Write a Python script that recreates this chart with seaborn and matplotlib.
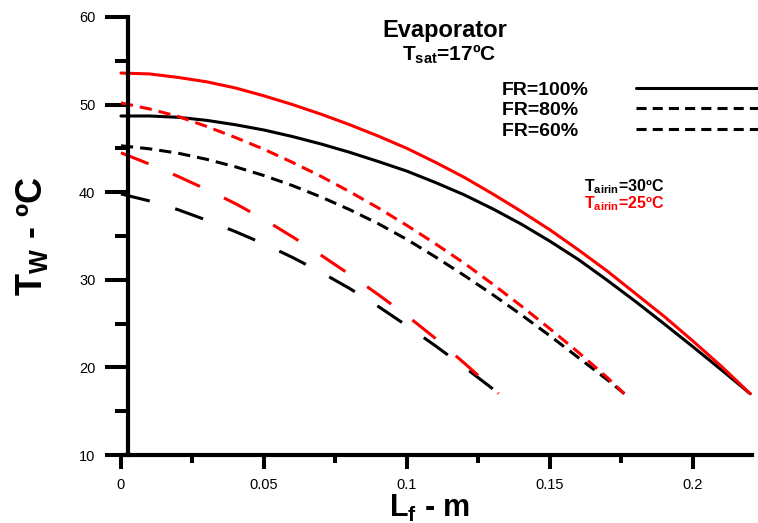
import numpy as np
import pandas as pd
import matplotlib
matplotlib.use('Agg')
import matplotlib.pyplot as plt
from matplotlib.lines import Line2D
from matplotlib.ticker import MultipleLocator, FormatStrFormatter
import seaborn as sns

# fin length (m) and wall temperature (C)
# FR = 100 %
L_100 = [0, 0.01, 0.02, 0.03, 0.04, 0.05, 0.06, 0.07, 0.08, 0.09, 0.10, 0.11,
         0.12, 0.13, 0.14, 0.15, 0.16, 0.17, 0.18, 0.19, 0.20, 0.21, 0.22]
Tw_100_30 = [48.7, 48.7, 48.55, 48.2, 47.7, 47.1, 46.35, 45.5, 44.55, 43.5, 42.4, 41.1,
             39.7, 38.1, 36.35, 34.4, 32.3, 29.95, 27.5, 24.95, 22.35, 19.7, 17.0]
Tw_100_25 = [53.6, 53.5, 53.1, 52.6, 51.9, 51.0, 50.0, 48.9, 47.7, 46.4, 45.0, 43.4,
             41.7, 39.8, 37.8, 35.7, 33.4, 31.0, 28.4, 25.8, 23.0, 20.1, 17.0]
# FR = 80 %
L_80 = [0, 0.01, 0.02, 0.03, 0.04, 0.05, 0.06, 0.07, 0.08, 0.09, 0.10,
        0.11, 0.12, 0.13, 0.14, 0.15, 0.16, 0.17, 0.176]
Tw_80_30 = [45.3, 44.95, 44.45, 43.75, 42.9, 41.9, 40.75, 39.45, 38.0, 36.4, 34.6,
            32.6, 30.5, 28.3, 26.0, 23.6, 21.1, 18.6, 17.0]
Tw_80_25 = [50.2, 49.5, 48.65, 47.5, 46.25, 44.9, 43.4, 41.8, 40.05, 38.2, 36.2,
            34.1, 31.9, 29.5, 27.0, 24.4, 21.7, 18.85, 17.0]
# FR = 60 %
L_60 = [0, 0.01, 0.02, 0.03, 0.04, 0.05, 0.06, 0.07, 0.08, 0.09, 0.10,
        0.11, 0.12, 0.13, 0.132]
Tw_60_30 = [39.8, 39.0, 38.0, 36.8, 35.5, 34.1, 32.55, 30.85, 29.0, 26.95, 24.75,
            22.45, 20.05, 17.55, 17.0]
Tw_60_25 = [44.5, 43.2, 41.8, 40.3, 38.7, 36.9, 34.9, 32.8, 30.6, 28.3, 25.9,
            23.3, 20.5, 17.6, 17.0]

fr_labels = ['FR=100%', 'FR=80%', 'FR=60%']
x_ticks = [0, 0.05, 0.1, 0.15, 0.2]
y_ticks = [10, 20, 30, 40, 50, 60]

# long table for seaborn
parts = []
for fr, L, t30, t25 in [(100, L_100, Tw_100_30, Tw_100_25),
                        (80, L_80, Tw_80_30, Tw_80_25),
                        (60, L_60, Tw_60_30, Tw_60_25)]:
    parts.append(pd.DataFrame({'L': L, 'Tw': t30, 'FR': fr, 'Tair': 30}))
    parts.append(pd.DataFrame({'L': L, 'Tw': t25, 'FR': fr, 'Tair': 25}))
df = pd.concat(parts, ignore_index=True)

sns.set_style('ticks')
plt.rcParams['font.family'] = ['Liberation Sans', 'DejaVu Sans']
plt.rcParams['mathtext.fontset'] = 'custom'
plt.rcParams['mathtext.rm'] = 'Liberation Sans:bold'
plt.rcParams['mathtext.bf'] = 'Liberation Sans:bold'
plt.rcParams['mathtext.it'] = 'Liberation Sans:bold'
plt.rcParams['mathtext.default'] = 'bf'
for k in ['text.color', 'axes.labelcolor', 'axes.edgecolor', 'xtick.color', 'ytick.color']:
    plt.rcParams[k] = 'black'

fig = plt.figure(figsize=(7.58, 5.23), dpi=100)
ax = fig.add_axes([0.1596, 0.130, 0.832, 0.8375])

sns.lineplot(data=df, x='L', y='Tw', hue='Tair', style='FR',
             hue_order=[30, 25], style_order=[100, 80, 60],
             palette={30: 'black', 25: 'red'},
             dashes={100: '', 80: (4, 2.3), 60: (9.7, 8.7)},
             linewidth=2.2, estimator=None, sort=False,
             legend=False, clip_on=False, ax=ax)

ax.set_xlim(0, 0.2205)
ax.set_ylim(10, 60)
ax.set_xticks(x_ticks)
ax.set_yticks(y_ticks)
ax.xaxis.set_minor_locator(MultipleLocator(0.025))
ax.yaxis.set_minor_locator(MultipleLocator(5))
ax.xaxis.set_major_formatter(FormatStrFormatter('%g'))
ax.yaxis.set_major_formatter(FormatStrFormatter('%g'))

sns.despine(ax=ax)
ax.spines['left'].set_position(('data', 0.00245))
for s in ['left', 'bottom']:
    ax.spines[s].set_linewidth(3)
ax.tick_params(axis='y', which='major', length=16.5, width=2.9, pad=7, labelsize=10.5)
ax.tick_params(axis='y', which='minor', length=9.4, width=2.9)
ax.tick_params(axis='x', which='major', length=10, width=2.9, pad=6.5, labelsize=10.5)
ax.tick_params(axis='x', which='minor', length=5.8, width=2.9)

ax.set_xlabel('L$_f$ - m', fontsize=22, fontweight='bold', va='center')
ax.xaxis.set_label_coords(0.49, -0.122)
ax.set_ylabel('T$_W$ - ºC', fontsize=26, fontweight='bold', va='center')
ax.yaxis.set_label_coords(-0.141, 0.5)

ax.text(0.514, 0.954, 'Evaporator', transform=ax.transAxes, ha='center',
        va='baseline', fontsize=17, fontweight='bold')
ax.text(0.52, 0.900, 'T$_{sat}$=17ºC', transform=ax.transAxes, ha='center',
        va='baseline', fontsize=15, fontweight='bold')
ax.text(0.734, 0.603, 'T$_{airin}$=30ºC', transform=ax.transAxes, ha='left',
        va='baseline', fontsize=11.5, fontweight='bold', color='black')
ax.text(0.734, 0.563, 'T$_{airin}$=25ºC', transform=ax.transAxes, ha='left',
        va='baseline', fontsize=11.5, fontweight='bold', color='red')

handles = [Line2D([], [], color='black', lw=2.2),
           Line2D([], [], color='black', lw=2.2, dashes=(3.3, 2)),
           Line2D([], [], color='black', lw=2.2, dashes=(3.3, 2))]
labels = [s.ljust(7, '\u2007') for s in fr_labels]
ax.legend(handles, labels, loc='upper left', bbox_to_anchor=(0.604, 0.854),
          frameon=False, markerfirst=False, handlelength=7.5,
          handletextpad=2.4, labelspacing=0.16, borderpad=0, borderaxespad=0,
          prop={'weight': 'bold', 'size': 14})

fig.savefig('out.png', dpi=100)
